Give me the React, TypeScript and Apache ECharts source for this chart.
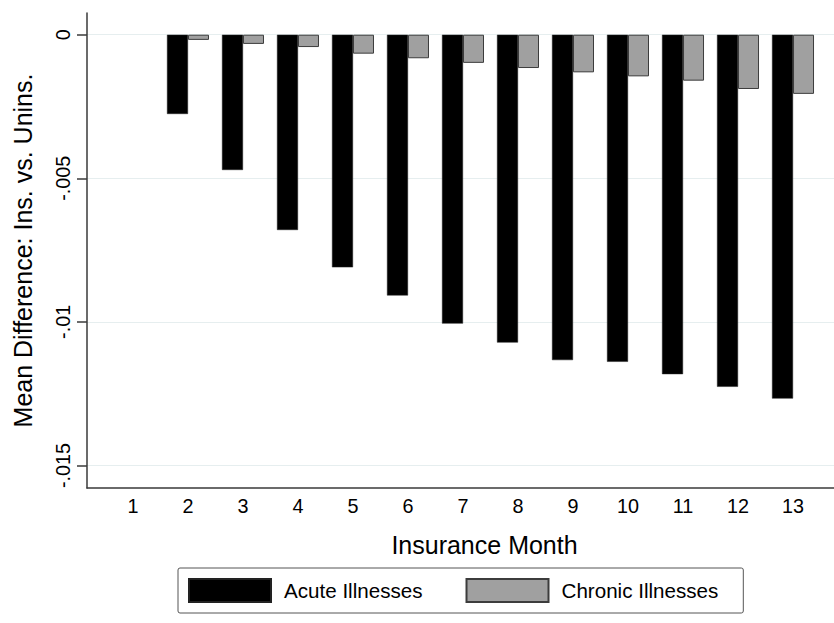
import React, { useEffect, useRef } from "react";
import * as echarts from "echarts";

const months = [1, 2, 3, 4, 5, 6, 7, 8, 9, 10, 11, 12, 13];
const acute = [null, -0.00276, -0.00471, -0.0068, -0.0081, -0.00908, -0.01006, -0.01072, -0.01133, -0.01139, -0.01182, -0.01226, -0.01267];
const chronic = [null, -0.00018, -0.00032, -0.00043, -0.00066, -0.00082, -0.00098, -0.00116, -0.00131, -0.00145, -0.0016, -0.00189, -0.00206];
const yTicks = [0, -0.005, -0.01, -0.015];
const yTickLabels = ["0", "-.005", "-.01", "-.015"];
const seriesNames = ["Acute Illnesses", "Chronic Illnesses"];
const xTitle = "Insurance Month";
const yTitle = "Mean Difference: Ins. vs. Unins.";

const FONT = "'Liberation Sans', Arial, Helvetica, sans-serif";

export default function App() {
  const ref = useRef<HTMLDivElement>(null);
  useEffect(() => {
    if (!ref.current) return;
    const chart = echarts.init(ref.current, null, { renderer: "svg" });
    chart.setOption({
      animation: false,
      backgroundColor: "#ffffff",
      textStyle: { fontFamily: FONT },
      grid: { left: 87, right: 0, top: 13, bottom: 135 },
      legend: {
        data: seriesNames,
        left: 178,
        top: 568,
        orient: "horizontal",
        icon: "rect",
        itemWidth: 82,
        itemHeight: 23,
        itemGap: 43,
        padding: [10, 25, 10, 10],
        borderColor: "#555555",
        borderWidth: 1,
        borderRadius: 2,
        textStyle: { fontSize: 20.6, color: "#000", fontFamily: FONT, padding: [0, 0, 0, 8] },
      },
      xAxis: {
        type: "value",
        min: 0.164,
        max: 13.745,
        name: xTitle,
        nameLocation: "middle",
        nameGap: 44,
        nameTextStyle: { fontSize: 25, color: "#000", fontFamily: FONT, padding: [0, 0, 0, 48] },
        axisLine: { show: true, onZero: false, lineStyle: { color: "#3a3a3a", width: 1.5 } },
        axisTick: { show: false, customValues: months },
        axisLabel: {
          customValues: months,
          fontSize: 19.8,
          color: "#000",
          margin: 8,
          formatter: (v: number) => String(v),
        },
        splitLine: { show: false },
      },
      yAxis: {
        type: "value",
        min: -0.015784,
        max: 0.000756,
        name: yTitle,
        nameLocation: "middle",
        nameGap: 52,
        nameRotate: 90,
        nameTextStyle: { fontSize: 25, color: "#000", fontFamily: FONT },
        axisLine: { show: true, lineStyle: { color: "#3a3a3a", width: 1.5 } },
        axisTick: { show: true, length: 10, customValues: yTicks, lineStyle: { color: "#3a3a3a", width: 1.5 } },
        axisLabel: {
          customValues: yTicks,
          rotate: 90,
          fontSize: 19.8,
          color: "#000",
          margin: 14,
          formatter: (v: number) => {
            const i = yTicks.findIndex((t) => Math.abs(t - v) < 1e-9);
            return i >= 0 ? yTickLabels[i] : "";
          },
        },
        splitLine: { show: true, lineStyle: { color: "#e6eeef", width: 1.2 } },
      },
      series: [
        {
          name: seriesNames[0],
          type: "bar",
          barWidth: 21,
          barGap: "0%",
          data: months.map((m, i) => [m, acute[i]]),
          itemStyle: { color: "#000000", borderColor: "#222222", borderWidth: 0.5 },
        },
        {
          name: seriesNames[1],
          type: "bar",
          barWidth: 21,
          barGap: "0%",
          data: months.map((m, i) => [m, chronic[i]]),
          itemStyle: { color: "#a0a0a0", borderColor: "#3c3c3c", borderWidth: 1 },
        },
      ],
    });
    return () => chart.dispose();
  }, []);
  return (
    <div
      ref={ref}
      style={{ position: "fixed", left: 0, top: 0, width: 834, height: 623, background: "#fff" }}
    />
  );
}
